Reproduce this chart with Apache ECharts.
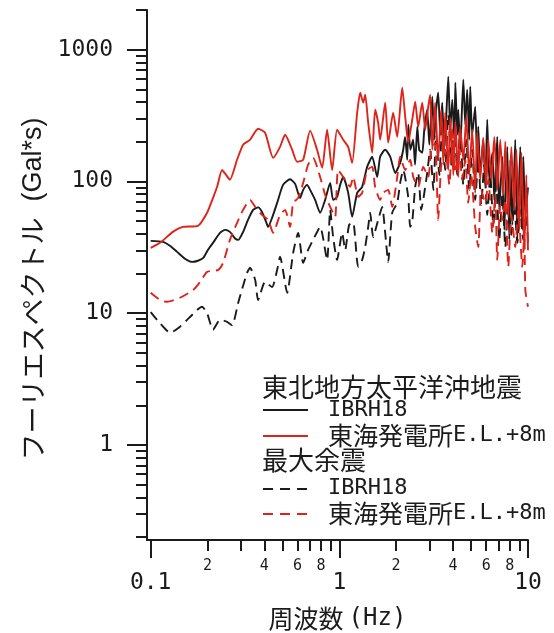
<!DOCTYPE html>
<html>
<head>
<meta charset="utf-8">
<script src="https://cdn.jsdelivr.net/npm/echarts@6/dist/echarts.min.js"></script>
<style>
html,body{margin:0;padding:0;background:#ffffff;}
#chart{width:554px;height:633px;}
</style>
</head>
<body>
<div id="chart"></div>
<script>
// ---- Data (frequency in Hz, Fourier amplitude in Gal*s) ----
// 東北地方太平洋沖地震 IBRH18 (black solid)
const mainIbrhFreq = [0.1,0.116,0.127,0.138,0.152,0.166,0.178,0.19,0.201,0.214,0.233,0.248,0.263,0.28,0.291,0.309,0.328,0.349,0.371,0.389,0.409,0.419,0.44,0.468,0.503,0.548,0.583,0.619,0.643,0.675,0.7,0.744,0.791,0.841,0.894,0.927,0.973,1.01,1.048,1.114,1.169,1.243,1.321,1.404,1.493,1.587,1.646,1.75,1.86,1.977,2.1,2.18,2.23,2.29,2.32,2.38,2.46,2.52,2.59,2.65,2.75,2.82,2.92,3.0,3.11,3.18,3.26,3.34,3.43,3.51,3.6,3.69,3.78,3.87,3.97,4.07,4.12,4.22,4.27,4.37,4.54,4.65,4.76,4.88,4.94,5.06,5.25,5.38,5.45,5.58,5.79,5.94,6.08,6.23,6.47,6.63,6.87,7.04,7.31,7.49,7.77,7.96,8.06,8.26,8.56,8.78,9.1,9.33,9.44,9.68,10];
const mainIbrhAmp = [35.4,34.8,32.4,29.2,25.9,24.5,25.0,26.3,30.2,34.2,40.7,42.9,41.4,36.9,36.0,41.4,51.1,60.8,63.5,58.7,49.3,45.2,52.9,68.7,94.2,104,95.9,75.0,86.3,94.2,86.3,72.4,57.8,72.4,97.5,72.4,76.4,94.2,108,81.9,53.8,81.9,91.0,129,154,108,154,174,154,116,138,174,218,146,269,174,207,134,260,174,165,247,350,190,440,207,350,471,226,396,174,321,623,247,417,207,561,226,350,174,591,269,497,207,523,226,369,134,260,112,207,94.2,294,103,165,72.4,218,60.8,154,42.9,183,36.0,146,46.8,207,36.0,183,42.9,154,55.7,90];

// 東北地方太平洋沖地震 東海発電所E.L.+8m (red solid)
const mainTokaiFreq = [0.1,0.112,0.131,0.148,0.178,0.199,0.214,0.225,0.239,0.251,0.263,0.287,0.309,0.336,0.371,0.404,0.446,0.485,0.516,0.562,0.597,0.643,0.7,0.762,0.811,0.861,0.916,0.973,1.048,1.114,1.169,1.243,1.29,1.338,1.371,1.422,1.493,1.548,1.606,1.646,1.75,1.815,1.929,2.026,2.154,2.234,2.317,2.434,2.524,2.618,2.75,2.853,2.959,3.03,3.11,3.22,3.34,3.47,3.56,3.64,3.78,3.87,4.02,4.12,4.27,4.37,4.54,4.71,4.88,5.06,5.25,5.38,5.58,5.79,6.01,6.16,6.39,6.63,6.87,7.13,7.4,7.58,7.86,8.16,8.46,8.67,8.99,9.22,9.56,9.8,10];
const mainTokaiAmp = [31.3,34.2,41.4,45.2,46.0,57.8,75.0,91.0,122,112,103,146,190,207,251,234,151,183,226,174,141,146,243,174,127,247,122,247,207,183,138,332,471,396,455,279,165,350,279,207,396,197,332,218,514,310,197,294,403,260,396,247,369,455,174,396,146,350,134,332,122,305,112,284,108,260,146,310,112,247,81.9,234,103,215,91.0,207,103,218,86.3,207,79.1,200,53.8,183,60.8,174,42.9,165,30.2,112,30];

// 最大余震 IBRH18 (black dashed)
const afterIbrhFreq = [0.1,0.112,0.127,0.143,0.162,0.187,0.199,0.214,0.233,0.254,0.27,0.291,0.324,0.336,0.358,0.371,0.404,0.44,0.468,0.485,0.529,0.569,0.605,0.643,0.683,0.726,0.791,0.861,0.894,0.927,0.973,1.035,1.074,1.127,1.184,1.258,1.321,1.371,1.422,1.457,1.511,1.606,1.687,1.75,1.815,1.906,2.026,2.101,2.181,2.317,2.375,2.434,2.524,2.618,2.716,2.784,2.923,3.03,3.15,3.26,3.39,3.51,3.64,3.78,3.92,4.07,4.22,4.37,4.54,4.71,4.88,5.06,5.25,5.45,5.65,5.86,6.08,6.31,6.55,6.79,7.04,7.31,7.58,7.86,8.16,8.46,8.78,9.1,9.44,9.8,10];
const afterIbrhAmp = [10.2,8.4,7.1,7.9,9.4,11.2,10.0,7.5,8.9,8.6,8.1,12.0,20.2,22.1,17.9,12.6,17.3,15.8,21.3,26.8,14.3,28.7,40.7,24.1,30.2,36.0,45.2,25.4,60.8,37.9,25.4,40.7,30.2,46.8,48.5,22.5,25.4,31.8,45.2,57.8,37.9,51.1,64.1,40.7,24.5,57.8,68.7,97.5,122,76.4,45.2,49.3,91.0,116,60.8,72.4,116,174,86.3,226,112,269,122,321,134,294,112,247,94.2,207,86.3,174,72.4,146,66.4,134,55.7,112,46.8,94.2,36.0,79.1,31.8,72.4,39.3,66.4,34.2,60.8,36.0,55.7,33];

// 最大余震 東海発電所E.L.+8m (red dashed)
const afterTokaiFreq = [0.1,0.112,0.122,0.143,0.168,0.183,0.199,0.228,0.242,0.263,0.287,0.309,0.336,0.358,0.389,0.419,0.446,0.485,0.516,0.548,0.569,0.605,0.643,0.683,0.726,0.791,0.841,0.894,0.95,0.985,1.074,1.141,1.184,1.258,1.321,1.404,1.493,1.548,1.646,1.707,1.815,1.906,2.026,2.101,2.234,2.375,2.464,2.618,2.784,2.959,3.07,3.22,3.34,3.47,3.64,3.83,3.97,4.12,4.32,4.48,4.65,4.82,5.0,5.25,5.45,5.65,5.94,6.16,6.47,6.71,6.87,7.13,7.31,7.58,7.86,8.16,8.56,8.88,9.33,9.56,9.68,10];
const afterTokaiAmp = [14.3,12.6,12.2,13.1,15.0,17.3,20.6,21.3,24.1,36.0,48.5,60.8,72.4,64.1,55.7,51.1,40.7,55.7,60.8,45.2,68.7,75.0,97.5,134,151,108,79.1,64.1,53.8,122,103,91.0,108,76.4,81.9,122,129,91.0,72.4,81.9,86.3,64.1,108,154,122,146,108,91.0,129,108,174,196,51.1,134,174,94.2,247,116,174,103,146,68.7,112,45.2,31.8,86.3,68.7,103,40.7,79.1,25.4,66.4,51.1,72.4,22.5,55.7,31.8,60.8,22.5,42.9,15.0,11.2];

// Axis ticks / labels
const xMajorTicks = [0.1, 1, 10];
const xMinorTicks = [0.2,0.3,0.4,0.5,0.6,0.7,0.8,0.9,2,3,4,5,6,7,8,9];
const xMinorLabels = [0.2,0.4,0.6,0.8,2,4,6,8];
const yMajorTicks = [1, 10, 100, 1000];
const yMinorTicks = [0.2,0.3,0.4,0.5,0.6,0.7,0.8,0.9,2,3,4,5,6,7,8,9,20,30,40,50,60,70,80,90,200,300,400,500,600,700,800,900,2000];

// Legend texts
const groupMain = '東北地方太平洋沖地震';
const groupAfter = '最大余震';
const stationIbrh = 'IBRH18';
const stationTokaiName = '東海発電所';
const stationTokaiLevel = 'E.L.+8m';

const INK = '#1b1b1b';
const RED = '#de2419';
const MONO = "'DejaVu Sans Mono', 'Liberation Mono', monospace";
const CJK = "'Noto Sans CJK JP', sans-serif";

function pairs(f, a) { return f.map((v, i) => [v, a[i]]); }

const chart = echarts.init(document.getElementById('chart'), null, { renderer: 'canvas' });

const axisLineStyle = { color: INK, width: 2 };

function fmtNum(v) {
  const n = Number(v);
  if (n < 1) return String(Math.round(n * 10) / 10);
  return String(Math.round(n));
}

const SMOOTH = 0.2;

const option = {
  backgroundColor: '#ffffff',
  animation: false,
  grid: { left: 147, right: 26, top: 10, bottom: 93, containLabel: false, outerBoundsMode: 'none' },
  xAxis: [
    {
      type: 'log', logBase: 10, min: 0.0956, max: 10, position: 'bottom',
      axisLine: { show: true, lineStyle: axisLineStyle },
      axisTick: { show: true, customValues: xMajorTicks, length: 18, lineStyle: { color: INK, width: 2 } },
      axisLabel: {
        show: true, customValues: xMajorTicks, margin: 32,
        fontFamily: MONO, fontSize: 23, color: INK,
        formatter: fmtNum
      },
      splitLine: { show: false },
      minorTick: { show: false },
      name: '{c|周波数}{m|(Hz)}',
      nameLocation: 'middle', nameGap: 66,
      nameTextStyle: {
        rich: {
          c: { fontFamily: CJK, fontSize: 25, color: INK },
          m: { fontFamily: MONO, fontSize: 24, color: INK, padding: [0, 0, 0, 5] }
        }
      }
    },
    {
      type: 'log', logBase: 10, min: 0.0956, max: 10, position: 'bottom',
      axisLine: { show: false },
      axisTick: { show: true, customValues: xMinorTicks, length: 11, lineStyle: { color: INK, width: 2 } },
      axisLabel: {
        show: true, customValues: xMinorLabels, margin: 19,
        fontFamily: MONO, fontSize: 15, color: INK,
        formatter: function (v) { const n = Number(v); return n < 1 ? String(Math.round(n * 10)) : String(Math.round(n)); }
      },
      splitLine: { show: false }
    }
  ],
  yAxis: [
    {
      type: 'log', logBase: 10, min: 0.19, max: 2000, position: 'left',
      axisLine: { show: true, lineStyle: axisLineStyle },
      axisTick: { show: true, customValues: yMajorTicks, length: 20, lineStyle: { color: INK, width: 2 } },
      axisLabel: {
        show: true, customValues: yMajorTicks, margin: 34,
        fontFamily: MONO, fontSize: 23, color: INK,
        formatter: fmtNum
      },
      splitLine: { show: false },
      name: '{k|フーリエスペクトル}{g|(Gal*s)}',
      nameLocation: 'middle', nameGap: 100, nameRotate: 90,
      nameTextStyle: {
        rich: {
          k: { fontFamily: CJK, fontSize: 27, color: INK },
          g: { fontFamily: "'Liberation Sans', Arial, sans-serif", fontSize: 27, color: INK, padding: [0, 28, 0, 16] }
        }
      }
    },
    {
      type: 'log', logBase: 10, min: 0.19, max: 2000, position: 'left',
      axisLine: { show: false },
      axisTick: { show: true, customValues: yMinorTicks, length: 11, lineStyle: { color: INK, width: 2 } },
      axisLabel: { show: false },
      splitLine: { show: false }
    }
  ],
  series: [
    {
      name: groupMain + ' ' + stationIbrh, type: 'line', xAxisIndex: 0, yAxisIndex: 0,
      data: pairs(mainIbrhFreq, mainIbrhAmp), symbol: 'none', showSymbol: false, smooth: SMOOTH,
      lineStyle: { color: INK, width: 1.9, join: 'round' }, z: 2
    },
    {
      name: groupAfter + ' ' + stationIbrh, type: 'line', xAxisIndex: 0, yAxisIndex: 0,
      data: pairs(afterIbrhFreq, afterIbrhAmp), symbol: 'none', showSymbol: false, smooth: SMOOTH,
      lineStyle: { color: INK, width: 1.9, type: [10, 6], join: 'round' }, z: 3
    },
    {
      name: groupMain + ' ' + stationTokaiName + stationTokaiLevel, type: 'line', xAxisIndex: 0, yAxisIndex: 0,
      data: pairs(mainTokaiFreq, mainTokaiAmp), symbol: 'none', showSymbol: false, smooth: SMOOTH,
      lineStyle: { color: RED, width: 1.9, join: 'round' }, z: 4
    },
    {
      name: groupAfter + ' ' + stationTokaiName + stationTokaiLevel, type: 'line', xAxisIndex: 0, yAxisIndex: 0,
      data: pairs(afterTokaiFreq, afterTokaiAmp), symbol: 'none', showSymbol: false, smooth: SMOOTH,
      lineStyle: { color: RED, width: 1.9, type: [10, 6], join: 'round' }, z: 5
    }
  ],
  graphic: [
    { type: 'text', x: 262, y: 387, style: { text: groupMain, fontFamily: CJK, fontSize: 26, fill: INK, verticalAlign: 'middle', align: 'left' } },
    { type: 'line', shape: { x1: 263, y1: 410, x2: 308, y2: 410 }, style: { stroke: INK, lineWidth: 2 } },
    { type: 'text', x: 328, y: 410, style: { text: stationIbrh, fontFamily: MONO, fontSize: 22, fill: INK, verticalAlign: 'middle', align: 'left' } },
    { type: 'line', shape: { x1: 263, y1: 436, x2: 308, y2: 436 }, style: { stroke: RED, lineWidth: 2 } },
    { type: 'text', x: 328, y: 435, style: {
        text: '{c|' + stationTokaiName + '}{m|' + stationTokaiLevel + '}', verticalAlign: 'middle', align: 'left',
        rich: { c: { fontFamily: CJK, fontSize: 25, fill: INK }, m: { fontFamily: MONO, fontSize: 22, fill: INK } } } },
    { type: 'text', x: 262, y: 460, style: { text: groupAfter, fontFamily: CJK, fontSize: 26, fill: INK, verticalAlign: 'middle', align: 'left' } },
    { type: 'line', shape: { x1: 263, y1: 489, x2: 308, y2: 489 }, style: { stroke: INK, lineWidth: 2, lineDash: [10, 7] } },
    { type: 'text', x: 328, y: 488, style: { text: stationIbrh, fontFamily: MONO, fontSize: 22, fill: INK, verticalAlign: 'middle', align: 'left' } },
    { type: 'line', shape: { x1: 263, y1: 514, x2: 308, y2: 514 }, style: { stroke: RED, lineWidth: 2, lineDash: [10, 7] } },
    { type: 'text', x: 328, y: 513, style: {
        text: '{c|' + stationTokaiName + '}{m|' + stationTokaiLevel + '}', verticalAlign: 'middle', align: 'left',
        rich: { c: { fontFamily: CJK, fontSize: 25, fill: INK }, m: { fontFamily: MONO, fontSize: 22, fill: INK } } } }
  ]
};

chart.setOption(option);
</script>
</body>
</html>
